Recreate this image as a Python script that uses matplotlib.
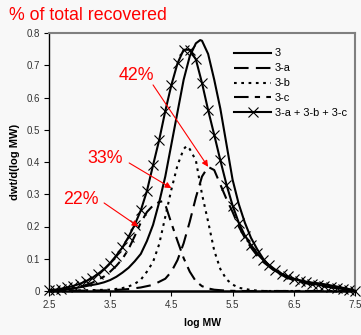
import numpy as np
import matplotlib
matplotlib.use("Agg")
from matplotlib import pyplot as plt

plt.rcParams['font.family'] = ['Liberation Sans', 'DejaVu Sans']

# Sum of the three fitted components (with x markers)
x_sum = [2.5, 2.6, 2.7, 2.8, 2.9, 3.0, 3.1, 3.2, 3.3, 3.4, 3.5, 3.6, 3.7, 3.8, 3.9,
         4.0, 4.1, 4.2, 4.3, 4.4, 4.5, 4.6, 4.7, 4.8, 4.9, 5.0, 5.1, 5.2, 5.3, 5.4,
         5.5, 5.6, 5.7, 5.8, 5.9, 6.0, 6.1, 6.2, 6.3, 6.4, 6.5, 6.6, 6.7, 6.8, 6.9,
         7.0, 7.1, 7.2, 7.3, 7.4, 7.5]
y_sum = [0.002, 0.004, 0.007, 0.011, 0.016, 0.022, 0.030, 0.040, 0.053, 0.068, 0.087,
         0.110, 0.135, 0.168, 0.205, 0.250, 0.310, 0.390, 0.468, 0.558, 0.639, 0.706,
         0.748, 0.748, 0.718, 0.645, 0.561, 0.484, 0.405, 0.330, 0.265, 0.212, 0.172,
         0.142, 0.117, 0.096, 0.080, 0.066, 0.054, 0.045, 0.038, 0.032, 0.027, 0.023,
         0.019, 0.016, 0.012, 0.009, 0.006, 0.003, 0.001]

# Measured sample "3"
x_3 = [2.5, 2.7, 2.9, 3.1, 3.3, 3.4, 3.5, 3.6, 3.7, 3.8, 3.9, 4.0, 4.1, 4.2, 4.3,
       4.4, 4.5, 4.6, 4.7, 4.8, 4.9, 4.97, 5.0, 5.1, 5.2, 5.3, 5.4, 5.5, 5.6, 5.7,
       5.8, 5.9, 6.0, 6.1, 6.2, 6.3, 6.4, 6.5, 6.6, 6.7, 6.8, 6.9, 7.0, 7.2, 7.4, 7.5]
y_3 = [0.000, 0.003, 0.008, 0.015, 0.022, 0.027, 0.034, 0.044, 0.057, 0.072, 0.092,
       0.115, 0.155, 0.205, 0.275, 0.355, 0.455, 0.555, 0.655, 0.728, 0.768, 0.778,
       0.776, 0.735, 0.655, 0.565, 0.455, 0.345, 0.270, 0.212, 0.165, 0.130, 0.100,
       0.078, 0.062, 0.052, 0.044, 0.038, 0.033, 0.029, 0.026, 0.024, 0.021, 0.014,
       0.006, 0.002]

# Component 3-a (high MW)
x_a = [2.5, 3.5, 3.8, 4.0, 4.2, 4.4, 4.5, 4.6, 4.7, 4.8, 4.9, 5.0, 5.1, 5.2, 5.3,
       5.4, 5.5, 5.6, 5.7, 5.8, 5.9, 6.0, 6.2, 6.4, 6.6, 6.8, 7.0, 7.2, 7.4, 7.5]
y_a = [0.000, 0.002, 0.006, 0.011, 0.019, 0.038, 0.060, 0.096, 0.148, 0.215, 0.290,
       0.355, 0.385, 0.375, 0.330, 0.285, 0.245, 0.200, 0.165, 0.135, 0.110, 0.090,
       0.060, 0.040, 0.028, 0.020, 0.014, 0.009, 0.004, 0.001]

# Component 3-b (middle)
x_b = [2.5, 3.5, 3.7, 3.8, 3.9, 4.0, 4.1, 4.2, 4.3, 4.4, 4.5, 4.6, 4.7, 4.75, 4.8,
       4.9, 5.0, 5.1, 5.2, 5.3, 5.4, 5.5, 5.6, 5.8, 6.0, 7.5]
y_b = [0.000, 0.004, 0.009, 0.014, 0.022, 0.035, 0.060, 0.090, 0.145, 0.230, 0.315,
       0.390, 0.440, 0.450, 0.440, 0.405, 0.300, 0.215, 0.125, 0.068, 0.036, 0.020,
       0.010, 0.003, 0.000, 0.000]

# Component 3-c (low MW)
x_c = [2.5, 2.8, 3.0, 3.2, 3.4, 3.5, 3.6, 3.7, 3.8, 3.9, 4.0, 4.1, 4.2, 4.3, 4.35,
       4.4, 4.5, 4.6, 4.7, 4.8, 4.9, 5.0, 5.1, 5.2, 5.4, 5.6, 7.5]
y_c = [0.000, 0.005, 0.012, 0.025, 0.045, 0.060, 0.078, 0.100, 0.130, 0.170, 0.212,
       0.245, 0.265, 0.276, 0.278, 0.268, 0.210, 0.155, 0.102, 0.060, 0.030, 0.015,
       0.008, 0.004, 0.001, 0.000, 0.000]

xticks = [2.5, 3.5, 4.5, 5.5, 6.5, 7.5]
yticks = [0, 0.1, 0.2, 0.3, 0.4, 0.5, 0.6, 0.7, 0.8]
ytick_labels = ['0', '0.1', '0.2', '0.3', '0.4', '0.5', '0.6', '0.7', '0.8']

# (label, text x, text y, arrow end x, arrow end y, arrow start x, arrow start y)
notes = [("42%", 3.92, 0.667, 5.10, 0.385, 4.20, 0.639),
         ("33%", 3.42, 0.412, 4.50, 0.319, 3.81, 0.397),
         ("22%", 3.02, 0.285, 3.96, 0.200, 3.40, 0.273)]

bg = '#f8f8f8'
fig = plt.figure(figsize=(3.61, 3.35), dpi=100, facecolor=bg)
ax = fig.add_axes([49/361, 44/335, 306/361, 258/335], facecolor=bg)

lw = 1.5
ax.plot(x_3, y_3, color='k', lw=lw, label='3')
ax.plot(x_a, y_a, color='k', lw=lw, dashes=(7, 3.5), label='3-a')
ax.plot(x_b, y_b, color='k', lw=lw, dashes=(1.3, 2.2), label='3-b')
ax.plot(x_c, y_c, color='k', lw=lw, dashes=(7, 3, 2.5, 3), label='3-c')
ax.plot(x_sum, y_sum, color='k', lw=lw, marker='x', ms=6.5, mew=0.8,
        label='3-a + 3-b + 3-c', clip_on=False, zorder=3)

for txt, tx, ty, ex, ey, sx, sy in notes:
    ax.text(tx, ty, txt, color='red', fontsize=12.8, ha='center', va='center')
    ax.annotate('', xy=(ex, ey), xytext=(sx, sy),
                arrowprops=dict(arrowstyle='-|>', color='red', lw=0.8,
                                mutation_scale=9, shrinkA=0, shrinkB=0))

ax.set_xlim(2.5, 7.5)
ax.set_ylim(0, 0.8)
ax.set_xticks(xticks)
ax.set_xticklabels([str(t) for t in xticks])
ax.set_yticks(yticks)
ax.set_yticklabels(ytick_labels)
ax.tick_params(direction='out', length=3.5, width=0.8, labelsize=7,
               labelcolor='#333333', pad=3)

for side in ['top', 'right']:
    ax.spines[side].set_color('#808080')
    ax.spines[side].set_linewidth(1.5)
ax.spines['left'].set_linewidth(1.0)
ax.spines['bottom'].set_linewidth(1.8)

ax.set_xlabel('log MW', fontsize=7.5, fontweight='bold', labelpad=6)
ax.set_ylabel('dwt/d(log MW)', fontsize=8, fontweight='bold', labelpad=5)

leg = ax.legend(loc='upper left', bbox_to_anchor=(0.605, 0.940), frameon=False,
                fontsize=7.9, handlelength=3.4, handletextpad=0.3,
                labelspacing=0.45, borderpad=0, borderaxespad=0)

fig.text(9/361, 1 - 15/335, '% of total recovered', color='red', fontsize=12.8,
         ha='left', va='center')

fig.savefig('out.png', dpi=100, facecolor=bg)
